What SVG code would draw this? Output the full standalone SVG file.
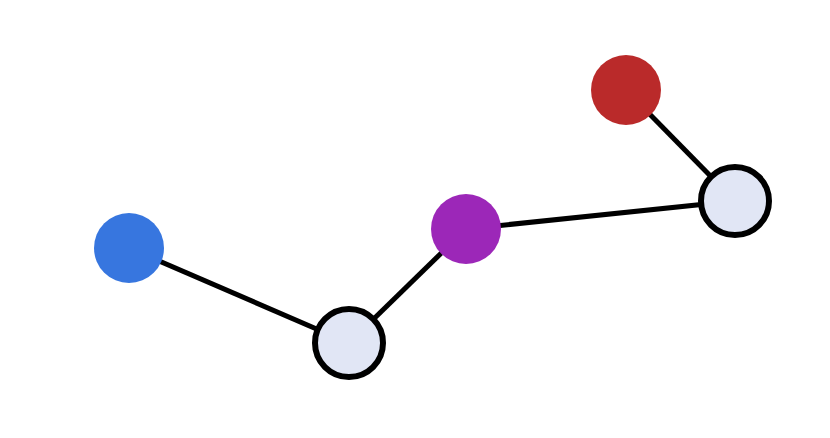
<svg xmlns="http://www.w3.org/2000/svg" width="830" height="438" viewBox="0 0 830 438">
<style>
.e{stroke:#000;stroke-width:5;fill:none}
.h{fill:#e1e6f5;stroke:#000;stroke-width:6}
</style>
<rect width="830" height="438" fill="#fff"/>
<g id="connectors">
<line class="e" x1="129" y1="248" x2="349" y2="343"/>
<line class="e" x1="349" y1="343" x2="466" y2="229"/>
<line class="e" x1="466" y1="229" x2="735" y2="201"/>
<line class="e" x1="735" y1="201" x2="626" y2="90"/>
</g>
<g id="blue"><circle cx="129" cy="248" r="35" fill="#3776df"/></g>
<g id="hub1"><circle class="h" cx="349" cy="343" r="34"/></g>
<g id="purple"><circle cx="466" cy="229" r="35" fill="#9c27b8"/></g>
<g id="hub2"><circle class="h" cx="735" cy="201" r="34"/></g>
<g id="red"><circle cx="626" cy="90" r="35" fill="#ba2a2a"/></g>
</svg>
